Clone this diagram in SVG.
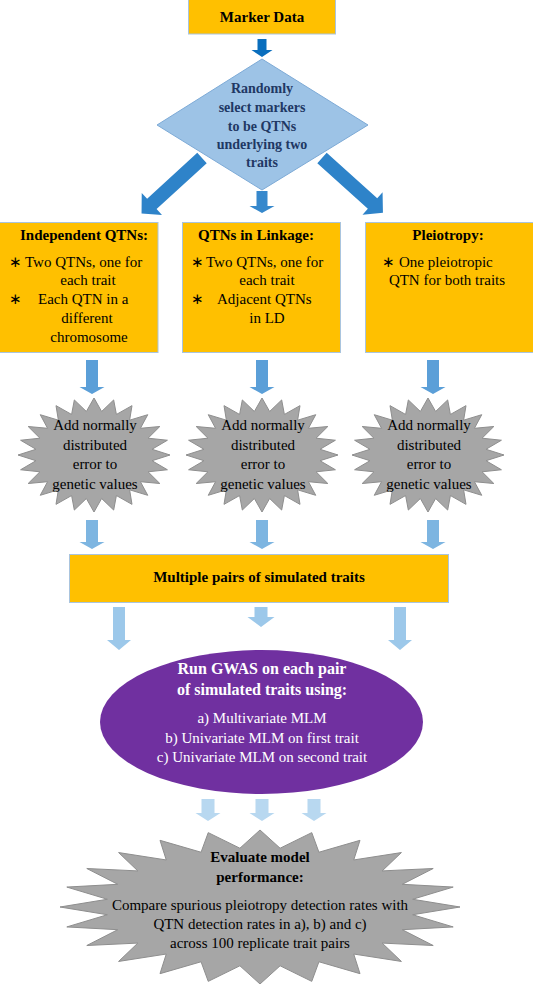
<svg xmlns="http://www.w3.org/2000/svg" xmlns:xlink="http://www.w3.org/1999/xlink" width="533" height="984" viewBox="0 0 533 984">
<style>
text{font-family:"Liberation Serif","Times New Roman",serif;font-size:15px;fill:#000}
.b{font-weight:bold}
.m{text-anchor:middle}
.box{fill:#FFC000;stroke:#A9C4DE;stroke-width:1}
.star{fill:#A6A6A6;stroke:#8E8E8E;stroke-width:1}
.dia{font-size:14px;fill:#1F3864;font-weight:bold}
.w{fill:#fff}
</style>
<defs>
<polygon id="star24" points="0,-100 10.05,-76.34 25.88,-96.59 29.47,-71.14 50,-86.6 46.87,-61.09 70.71,-70.71 61.09,-46.87 86.6,-50 71.14,-29.47 96.59,-25.88 76.34,-10.05 100,0 76.34,10.05 96.59,25.88 71.14,29.47 86.6,50 61.09,46.87 70.71,70.71 46.87,61.09 50,86.6 29.47,71.14 25.88,96.59 10.05,76.34 0,100 -10.05,76.34 -25.88,96.59 -29.47,71.14 -50,86.6 -46.87,61.09 -70.71,70.71 -61.09,46.87 -86.6,50 -71.14,29.47 -96.59,25.88 -76.34,10.05 -100,0 -76.34,-10.05 -96.59,-25.88 -71.14,-29.47 -86.6,-50 -61.09,-46.87 -70.71,-70.71 -46.87,-61.09 -50,-86.6 -29.47,-71.14 -25.88,-96.59 -10.05,-76.34" vector-effect="non-scaling-stroke"/>
<polygon id="diagArrow" points="-7,0 7,0 7,68 15,68 0,82 -15,68 -7,68"/>
</defs>

<g id="connectors">
<polygon fill="#0A6EBD" points="257.5,39 266.5,39 266.5,50 272.5,50 262,57 251.5,50 257.5,50"/>
<use href="#diagArrow" fill="#2E83C9" transform="translate(202,158) rotate(47.5)"/>
<use href="#diagArrow" fill="#2E83C9" transform="translate(322,158) rotate(-48)"/>
<polygon fill="#3688CC" points="256.5,191 267.5,191 267.5,206 274.5,206 262,213 249.5,206 256.5,206"/>
<g fill="#5B9FD8">
<polygon points="86,360 98,360 98,387 104.5,387 92,394 79.5,387 86,387"/>
<polygon points="256,360 268,360 268,387 274.5,387 262,394 249.5,387 256,387"/>
<polygon points="427,360 439,360 439,387 445.5,387 433,394 420.5,387 427,387"/>
</g>
<g fill="#7DB5E1">
<polygon points="86,520 98,520 98,542 104.5,542 92,549 79.5,542 86,542"/>
<polygon points="256,520 268,520 268,542 274.5,542 262,549 249.5,542 256,542"/>
<polygon points="427,520 439,520 439,542 445.5,542 433,549 420.5,542 427,542"/>
</g>
<g fill="#9CC8EA">
<polygon points="113,607 125,607 125,640 131,640 119,650 107,640 113,640"/>
<polygon points="254.5,607 267.5,607 267.5,617 274.5,617 261,627 247.5,617 254.5,617"/>
<polygon points="394,607 406,607 406,640 412,640 400,650 388,640 394,640"/>
</g>
<g fill="#B8D8F0">
<polygon points="201.5,799 214.5,799 214.5,813 220.5,813 208,821 195.5,813 201.5,813"/>
<polygon points="255.5,799 268.5,799 268.5,813 274.5,813 262,821 249.5,813 255.5,813"/>
<polygon points="307.5,799 320.5,799 320.5,813 326.5,813 314,821 301.5,813 307.5,813"/>
</g>
</g>

<g id="marker-data">
<rect class="box" x="188.5" y="-1" width="147" height="35"/>
<text class="b m" x="262" y="22">Marker Data</text>
</g>

<g id="select-qtns">
<polygon points="262,59 368,125 262,190 157,125" fill="#9DC3E6" stroke="#7DAAD6" stroke-width="1"/>
<text class="dia m" x="262" y="93">Randomly</text>
<text class="dia m" x="262" y="112">select markers</text>
<text class="dia m" x="262" y="131">to be QTNs</text>
<text class="dia m" x="262" y="149">underlying two</text>
<text class="dia m" x="262" y="167">traits</text>
</g>

<g id="independent-qtns">
<rect class="box" x="-2" y="222.5" width="160" height="130"/>
<text class="b m" x="84" y="240">Independent QTNs:</text>
<text x="9" y="267">∗</text>
<text x="25" y="267">Two QTNs, one for</text>
<text class="m" x="88" y="285">each trait</text>
<text x="9" y="304">∗</text>
<text x="38" y="304">Each QTN in a</text>
<text class="m" x="87" y="323">different</text>
<text class="m" x="89" y="342">chromosome</text>
</g>

<g id="qtns-linkage">
<rect class="box" x="182.5" y="222.5" width="158" height="130"/>
<text class="b m" x="256" y="240">QTNs in Linkage:</text>
<text x="191" y="267">∗</text>
<text x="206" y="267">Two QTNs, one for</text>
<text class="m" x="267" y="285">each trait</text>
<text x="191" y="304">∗</text>
<text x="217" y="304">Adjacent QTNs</text>
<text class="m" x="267" y="323">in LD</text>
</g>

<g id="pleiotropy">
<rect class="box" x="365.5" y="222.5" width="170" height="130"/>
<text class="b m" x="448" y="240">Pleiotropy:</text>
<text x="382" y="267">∗</text>
<text x="399" y="267">One pleiotropic</text>
<text class="m" x="447" y="285">QTN for both traits</text>
</g>

<g id="error-1">
<use href="#star24" class="star" transform="translate(94,455) scale(0.76,0.57)"/>
<text class="m" x="95" y="430">Add normally</text>
<text class="m" x="95" y="450">distributed</text>
<text class="m" x="95" y="469">error to</text>
<text class="m" x="95" y="489">genetic values</text>
</g>

<g id="error-2">
<use href="#star24" class="star" transform="translate(262,455) scale(0.76,0.57)"/>
<text class="m" x="263" y="430">Add normally</text>
<text class="m" x="263" y="450">distributed</text>
<text class="m" x="263" y="469">error to</text>
<text class="m" x="263" y="489">genetic values</text>
</g>

<g id="error-3">
<use href="#star24" class="star" transform="translate(428,455) scale(0.76,0.57)"/>
<text class="m" x="429" y="430">Add normally</text>
<text class="m" x="429" y="450">distributed</text>
<text class="m" x="429" y="469">error to</text>
<text class="m" x="429" y="489">genetic values</text>
</g>

<g id="simulated-traits">
<rect class="box" x="69.5" y="554.5" width="379" height="48"/>
<text class="b m" x="259" y="582">Multiple pairs of simulated traits</text>
</g>

<g id="run-gwas">
<ellipse cx="261.5" cy="722" rx="161.5" ry="72" fill="#7030A0"/>
<text class="b m w" x="262" y="674" style="font-size:16px">Run GWAS on each pair</text>
<text class="b m w" x="262" y="695" style="font-size:16px">of simulated traits using:</text>
<text class="m w" x="262" y="723">a) Multivariate MLM</text>
<text class="m w" x="262" y="743">b) Univariate MLM on first trait</text>
<text class="m w" x="262" y="762">c) Univariate MLM on second trait</text>
</g>

<g id="evaluate">
<use href="#star24" class="star" transform="translate(260,907) scale(2.0,0.77)"/>
<text class="b m" x="260" y="862">Evaluate model</text>
<text class="b m" x="260" y="882">performance:</text>
<text class="m" x="260" y="910">Compare spurious pleiotropy detection rates with</text>
<text class="m" x="260" y="929">QTN detection rates in a), b) and c)</text>
<text class="m" x="260" y="948">across 100 replicate trait pairs</text>
</g>
</svg>
